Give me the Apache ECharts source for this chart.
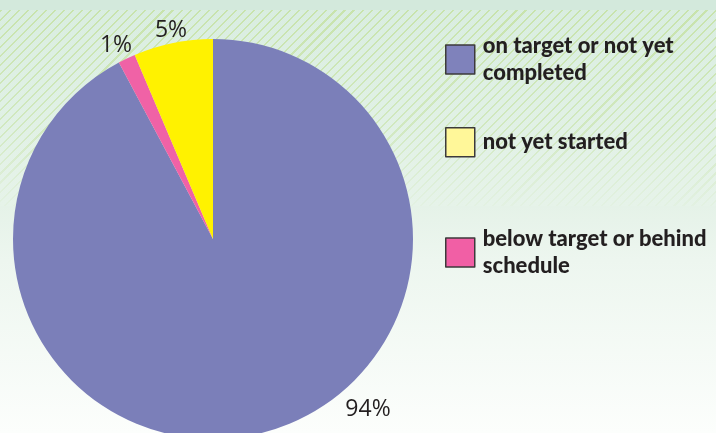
<!DOCTYPE html>
<html>
<head>
<meta charset="utf-8">
<script src="https://cdn.jsdelivr.net/npm/echarts@6/dist/echarts.min.js"></script>
<style>
html,body{margin:0;padding:0;}
#wrap{
  width:716px;height:433px;position:relative;
  background:
    linear-gradient(#d3e9dc,#d3e9dc) 0 0/100% 10px no-repeat,
    linear-gradient(to bottom, rgba(220,239,225,0.1) 0, rgba(226,242,230,0.4) 60%, rgba(230,243,233,0.9) 100%) 0 10px/100% 196px no-repeat,
    repeating-linear-gradient(135deg, #c6e2a6 0 1.5px, rgba(0,0,0,0) 1.5px 6.4px) 0 10px/100% 196px no-repeat,
    linear-gradient(to bottom, #d8ede0 0, #e5f2e8 206px, #edf6ef 260px, #fcfefc 433px);
}
#chart{width:716px;height:433px;}
</style>
</head>
<body>
<div id="wrap"><div id="chart"></div></div>
<script>
// Data
var categories = ['on target or not yet completed', 'below target or behind schedule', 'not yet started'];
var values = [92.2, 1.4, 6.4];
var valueLabels = ['94%', '1%', '5%'];
var legendOrder = ['on target or not yet completed', 'not yet started', 'below target or behind schedule'];
var legendText = ['on target or not yet\ncompleted', 'not yet started', 'below target or behind\nschedule'];

var sliceColors = ['#7b7fb9', '#f062a6', '#fff200'];
var legendColors = ['#7f82bb', '#fff799', '#f15fa5'];
var legendTops = [32, 127, 225];
var legendPad = [[1,0,0,3],[0,0,0,3],[1,0,0,3]];
var labelPos = [[368, 409], [116, 45], [171, 30]];

var chart = echarts.init(document.getElementById('chart'), null, {renderer:'canvas'});

var legends = legendOrder.map(function(name, i){
  return {
    left: 445, top: legendTops[i], orient: 'vertical',
    itemWidth: 29, itemHeight: 29, selectedMode: false, padding: 0,
    icon: 'rect',
    data: [{name: name, itemStyle: {color: legendColors[i], borderColor: '#3c3a3b', borderWidth: 1.5}}],
    formatter: function(){ return legendText[i]; },
    textStyle: {
      fontFamily: 'Lato', fontWeight: 900, fontSize: 22, color: '#231f20',
      lineHeight: 27, padding: legendPad[i]
    }
  };
});

chart.setOption({
  animation: false,
  backgroundColor: 'transparent',
  legend: legends,
  series: [{
    type: 'pie',
    center: [213, 239],
    radius: 200,
    startAngle: 90,
    clockwise: true,
    avoidLabelOverlap: false,
    emphasis: {disabled: true},
    labelLine: {show: false},
    label: {
      show: true, position: 'outside',
      fontFamily: 'Open Sans', fontSize: 23, color: '#231f20',
      formatter: function(p){ return valueLabels[p.dataIndex]; }
    },
    labelLayout: function(p){
      var pos = labelPos[p.dataIndex];
      return {x: pos[0], y: pos[1], align: 'center', verticalAlign: 'middle'};
    },
    data: categories.map(function(c, i){
      return {name: c, value: values[i], itemStyle: {color: sliceColors[i]}};
    })
  }]
});
</script>
</body>
</html>
